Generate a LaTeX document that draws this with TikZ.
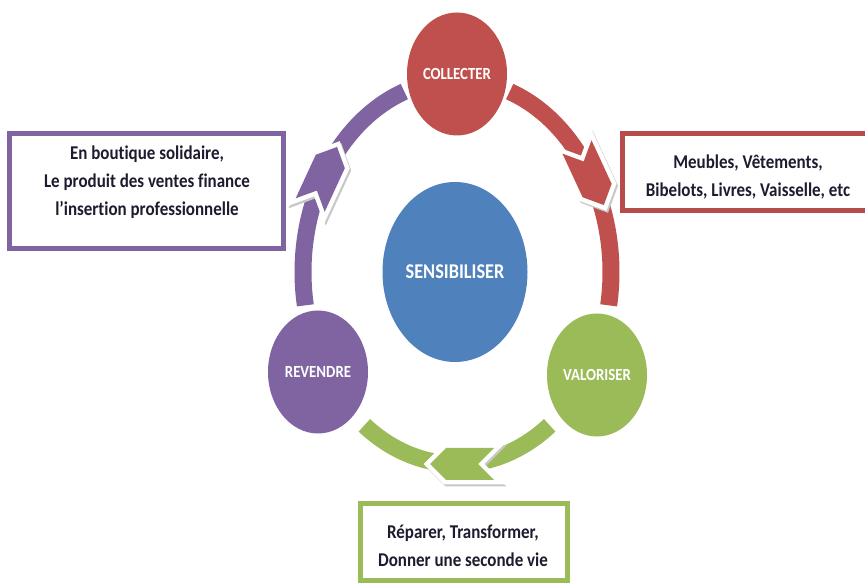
\documentclass[tikz,border=0pt]{standalone}
\usepackage{fontspec}
\setmainfont{Carlito}[FakeStretch=0.87, Ligatures=NoCommon]
\usetikzlibrary{shapes.geometric}
\definecolor{cred}{HTML}{C0504D}
\definecolor{cgreen}{HTML}{9BBB59}
\definecolor{cpurple}{HTML}{8064A2}
\definecolor{cblue}{HTML}{4F81BD}
\definecolor{ctext}{HTML}{1C1C2E}
\tikzset{
  circ/.style={ellipse, minimum width=100pt, minimum height=123pt, inner sep=0pt,
    text=white, font=\bfseries\fontsize{17}{19}\selectfont},
  bigcirc/.style={ellipse, minimum width=145pt, minimum height=180pt, inner sep=0pt,
    fill=cblue, text=white, font=\bfseries\fontsize{21}{23}\selectfont},
  band/.style={line width=17pt, line cap=butt},
  infobox/.style={rectangle, line width=5pt, fill=white, inner sep=0pt},
  infotext/.style={align=center, text=ctext, inner sep=0pt,
    font=\bfseries\fontsize{19.5}{28}\selectfont},
}
\newcommand\chevpath{(-32,16) -- (16,16) -- (32,0) -- (16,-16) -- (-32,-16) -- (-16,0) -- cycle}
\newcommand\mychevron[4]{%
  \begin{scope}[shift={({#1+1.5},{#2-2})},rotate=#3]
    \filldraw[black!22, line width=9pt, line join=miter] \chevpath;
  \end{scope}
  \begin{scope}[shift={(#1,#2)},rotate=#3]
    \draw[white, line width=9pt, line join=miter] \chevpath;
    \fill[#4] \chevpath;
  \end{scope}}
\begin{document}
\begin{tikzpicture}[x=1pt,y=1pt]
\useasboundingbox (0,0) rectangle (865,583);
\clip (0,0) rectangle (865,583);
\fill[white] (0,0) rectangle (865,583);

% cycle bands
\draw[band, cred] plot[domain=70:-10, samples=60] ({457+154*cos(\x)}, {311+192*sin(\x)});
\draw[band, cpurple] plot[domain=190:110, samples=60] ({457+154*cos(\x)}, {311+192*sin(\x)});
\draw[band, cgreen] plot[domain=-53:-127, samples=60] ({457+154*cos(\x)}, {311+192*sin(\x)});

% chevrons
\mychevron{590.4}{407}{-65.2}{cred}
\mychevron{323.6}{407}{65.2}{cpurple}
\mychevron{462}{119}{180}{cgreen}

% circles
\node[circ, fill=cred] (collecter) at (457,509) {COLLECTER};
\node[circ, fill=cgreen] (valoriser) at (597,208) {VALORISER};
\node[circ, fill=cpurple] (revendre) at (318,211) {REVENDRE};
\node[bigcirc] (sensib) at (455,311) {SENSIBILISER};

% boxes
\node[infobox, draw=cpurple, minimum width=274pt, minimum height=115pt] (boxp) at (146.5,391.5) {};
\node[infotext] (textp) at (147,401) {En boutique solidaire,\\Le produit des ventes finance\\l’insertion professionnelle};

\node[infobox, draw=cred!95!black, minimum width=257.5pt, minimum height=77.5pt] (boxr) at (751.25,410.75) {};
\node[infotext] (textr) at (748,406.5) {Meubles, Vêtements,\\Bibelots, Livres, Vaisselle, etc};

\node[infobox, draw=cgreen, minimum width=207pt, minimum height=76.5pt] (boxg) at (463.5,40.75) {};
\node[infotext] (textg) at (463,37) {Réparer, Transformer,\\Donner une seconde vie};
\end{tikzpicture}
\end{document}
